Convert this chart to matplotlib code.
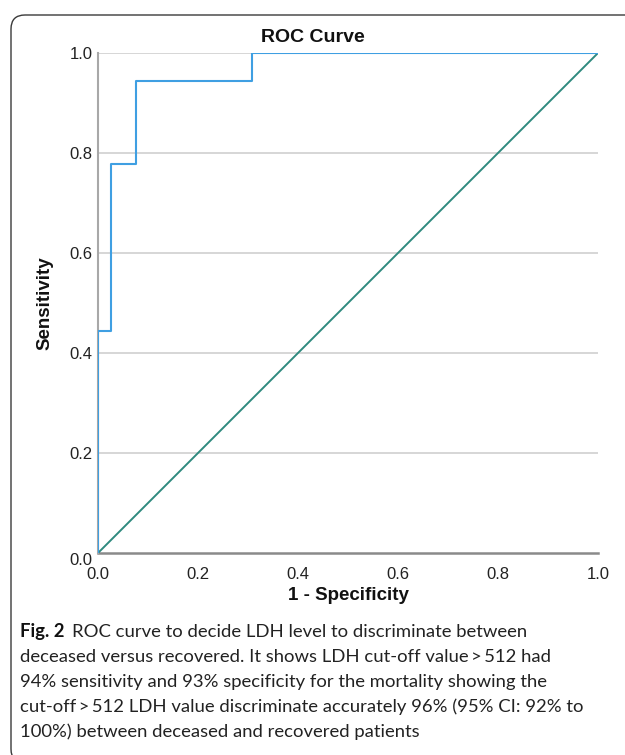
import matplotlib
matplotlib.use("Agg")
import matplotlib.pyplot as plt
from matplotlib.patches import FancyBboxPatch

# ROC points (1 - specificity, sensitivity), 39 negatives / 18 positives
fpr = [0.0, 0.0, 1 / 39, 1 / 39, 3 / 39, 3 / 39, 12 / 39, 12 / 39, 1.0]
tpr = [0.0, 8 / 18, 8 / 18, 14 / 18, 14 / 18, 17 / 18, 17 / 18, 1.0, 1.0]
ref_x = [0.0, 1.0]
ref_y = [0.0, 1.0]
ticks = [0.0, 0.2, 0.4, 0.6, 0.8, 1.0]
tick_labels = ["0.0", "0.2", "0.4", "0.6", "0.8", "1.0"]

titulo = "ROC Curve"
etiqueta_x = "1 - Specificity"
etiqueta_y = "Sensitivity"
fig_num = "Fig. 2"
caption = [
    "ROC curve to decide LDH level to discriminate between",
    "deceased versus recovered. It shows LDH cut-off value\u2009>\u2009512 had",
    "94% sensitivity and 93% specificity for the mortality showing the",
    "cut-off\u2009>\u2009512 LDH value discriminate accurately 96% (95% CI: 92% to",
    "100%) between deceased and recovered patients",
]

W, H = 625, 755
fig = plt.figure(figsize=(W / 100, H / 100), dpi=100)
plt.rcParams["font.family"] = ["Liberation Sans", "DejaVu Sans"]

# axes box in pixels: x 98..598, y 53..553
ax = fig.add_axes([98 / W, 1 - 553 / H, 500 / W, 500 / H])
ax.set_xlim(0, 1)
ax.set_ylim(0, 1)

for y in ticks[1:]:
    ax.axhline(y, color="#d0d0d0", lw=1.2, zorder=1)

ax.plot(ref_x, ref_y, color="#2f8a7f", lw=1.4, zorder=3)
ax.plot(fpr, tpr, color="#3f9fe2", lw=1.5, zorder=4)

for s in ["top", "right"]:
    ax.spines[s].set_visible(False)
ax.spines["left"].set_color("#a8a8a8")
ax.spines["left"].set_linewidth(1.5)
ax.spines["bottom"].set_color("#8a8a8a")
ax.spines["bottom"].set_linewidth(1.8)
ax.spines["bottom"].set_zorder(2)

ax.set_xticks(ticks)
ax.set_xticklabels(tick_labels)
ax.set_yticks(ticks)
ax.set_yticklabels(tick_labels)
ax.tick_params(axis="both", length=0, labelsize=12, colors="#222222")
ax.tick_params(axis="x", pad=10)
ax.tick_params(axis="y", pad=4)
# SPSS baja un poco la etiqueta 0.0 del eje y
ax.get_yticklabels()[0].set_verticalalignment("top")

fig.text(313 / W, 1 - 37 / H, titulo, ha="center", va="center",
         fontsize=14, fontweight="bold", color="#111111")
fig.text(45 / W, 1 - 303 / H, etiqueta_y, ha="center", va="center",
         rotation=90, fontsize=13.5, fontweight="bold", color="#111111")
fig.text(348 / W, 1 - 596 / H, etiqueta_x, ha="center", va="center",
         fontsize=13.5, fontweight="bold", color="#111111")

# marco redondeado
marco = FancyBboxPatch((11, -8), 650, H - 13 + 8 - 2,
                       boxstyle="round,pad=0,rounding_size=14",
                       transform=None, fill=False, ec="#3a3a3a", lw=1.0)
fig.patches.append(marco)

# caption
cap_font = ["Lato", "DejaVu Sans"]
y0 = 632
paso = 25
tam = 13.3
r = fig.canvas.get_renderer()
t = fig.text(20 / W, 1 - y0 / H, fig_num, ha="left", va="center",
             fontsize=tam, fontweight="bold", family=cap_font, color="#111111")
bb = t.get_window_extent(renderer=r)
fig.text((bb.x1 + 8) / W, 1 - y0 / H, caption[0], ha="left", va="center",
         fontsize=tam, family=cap_font, color="#222222")
for i, linea in enumerate(caption[1:], start=1):
    fig.text(20 / W, 1 - (y0 + i * paso) / H, linea, ha="left", va="center",
             fontsize=tam, family=cap_font, color="#222222")

fig.savefig("out.png", dpi=100)
